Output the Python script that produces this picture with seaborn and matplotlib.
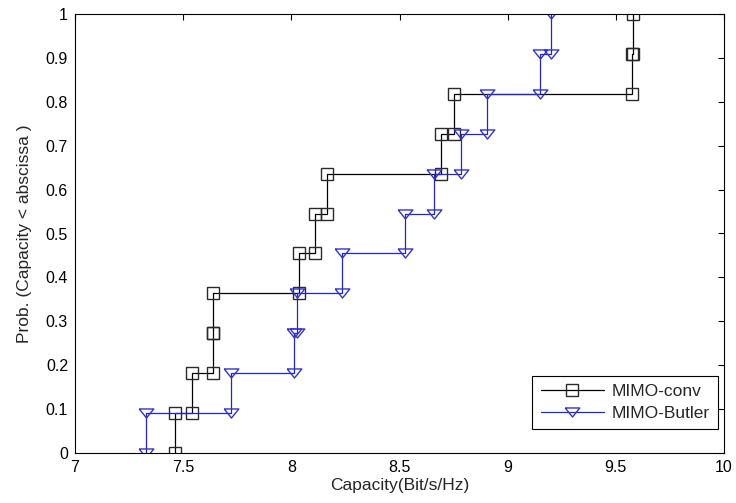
import numpy as np
import pandas as pd
import matplotlib
matplotlib.use("Agg")
import matplotlib.pyplot as plt
import seaborn as sns

# Sorted capacity samples (11 per series)
conv_samples = [7.463, 7.540, 7.636, 7.640, 8.034, 8.111, 8.163, 8.690, 8.752, 9.575, 9.578]
butler_samples = [7.327, 7.721, 8.012, 8.025, 8.235, 8.527, 8.660, 8.785, 8.906, 9.148, 9.198]
series_names = ["MIMO-conv", "MIMO-Butler"]
x_ticks = [7, 7.5, 8, 8.5, 9, 9.5, 10]
x_tick_labels = ["7", "7.5", "8", "8.5", "9", "9.5", "10"]
y_ticks = [0, 0.1, 0.2, 0.3, 0.4, 0.5, 0.6, 0.7, 0.8, 0.9, 1.0]
y_tick_labels = ["0", "0.1", "0.2", "0.3", "0.4", "0.5", "0.6", "0.7", "0.8", "0.9", "1"]


def stair_vertices(samples):
    s = np.sort(np.asarray(samples, dtype=float))
    n = len(s)
    levels = np.arange(n + 1) / n
    xs = np.repeat(s, 2)
    ys = np.empty(2 * n)
    ys[0::2] = levels[:-1]
    ys[1::2] = levels[1:]
    return pd.DataFrame({"x": xs, "y": ys})


sns.set_style("white")
plt.rcParams["font.family"] = ["Liberation Sans", "DejaVu Sans"]

fig = plt.figure(figsize=(7.36, 5.03), dpi=100)
ax = fig.add_axes([75 / 736, 50 / 503, 649 / 736, 439 / 503])

tri = [(-1.0, 0.62), (1.0, 0.62), (0.0, -0.62), (-1.0, 0.62)]

df_c = stair_vertices(conv_samples)
df_b = stair_vertices(butler_samples)

sns.lineplot(data=df_c, x="x", y="y", sort=False, estimator=None, ax=ax,
             color="black", linewidth=0.9, marker="s", markersize=8,
             markerfacecolor="none", markeredgecolor="#2a2a2a",
             markeredgewidth=1.0, label=series_names[0])
sns.lineplot(data=df_b, x="x", y="y", sort=False, estimator=None, ax=ax,
             color="#2222d8", linewidth=0.9, marker=tri, markersize=10.5,
             markerfacecolor="none", markeredgecolor="#3333cc",
             markeredgewidth=1.0, label=series_names[1])

ax.set_xlim(7, 10)
ax.set_ylim(0, 1)
ax.set_xticks(x_ticks)
ax.set_xticklabels(x_tick_labels)
ax.set_yticks(y_ticks)
ax.set_yticklabels(y_tick_labels)
ax.tick_params(axis="both", which="both", direction="in", length=4, width=0.8,
               top=True, right=True, labelsize=11.5, colors="black")
ax.tick_params(axis="x", pad=5)
ax.tick_params(axis="y", pad=5)
for sp in ax.spines.values():
    sp.set_visible(True)
    sp.set_color("black")
    sp.set_linewidth(0.8)

ax.set_xlabel("Capacity(Bit/s/Hz)", fontsize=12.5, labelpad=2)
ax.set_ylabel("Prob. (Capacity < abscissa )", fontsize=12.5, labelpad=10)

leg = ax.legend(loc="lower right", bbox_to_anchor=(0.991, 0.054), borderaxespad=0,
                fontsize=12.5, handlelength=3.6, handletextpad=0.45,
                frameon=True, fancybox=False, framealpha=1, edgecolor="black",
                borderpad=0.5, labelspacing=0.35)
leg.get_frame().set_linewidth(0.8)

fig.savefig("out.png", dpi=100, facecolor="white")
